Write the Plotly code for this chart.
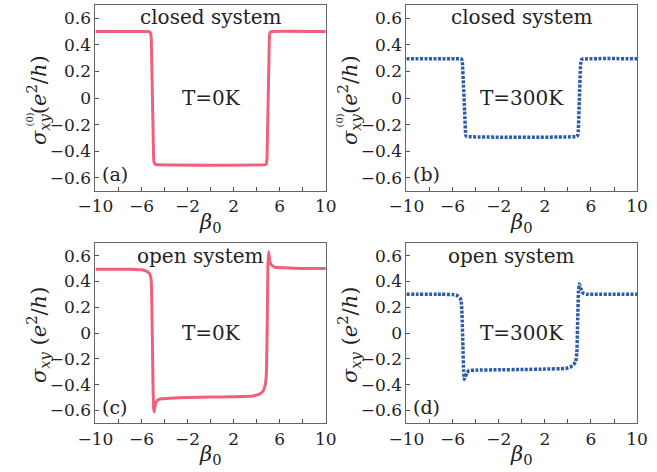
import plotly.graph_objects as go

# ---- data ----
beta_a = [-10, -5.5, -5.3, -5.22, -5.15, -4.95, -4.88, -4.8, 4.8, 4.85, 4.9, 5.1, 5.15, 5.25, 10]
sig_a = [0.5, 0.5, 0.498, 0.49, 0.45, -0.45, -0.49, -0.5, -0.5, -0.49, -0.45, 0.45, 0.49, 0.5, 0.5]

beta_b = [-10, -5.3, -5.2, -5.15, -5.05, -4.95, -4.85, -4.75, 4.75, 4.85, 4.9, 5.0, 5.1, 5.2, 10]
sig_b = [0.295, 0.295, 0.29, 0.27, 0.1, -0.1, -0.28, -0.29, -0.29, -0.28, -0.25, 0.0, 0.25, 0.29, 0.295]

beta_c = [-10, -7, -6, -5.6, -5.4, -5.25, -5.15, -5.1, -5.0, -4.95, -4.9, -4.85, -4.75, -4.6,
          -4.3, -3.5, -2, 0, 2, 3.5, 4.2, 4.55, 4.75, 4.85, 4.92, 4.97, 5.03, 5.08, 5.15, 5.3,
          5.6, 6.5, 8, 10]
sig_c = [0.495, 0.495, 0.49, 0.48, 0.47, 0.45, 0.4, 0.2, -0.4, -0.58, -0.61, -0.58, -0.54, -0.52,
         -0.51, -0.505, -0.5, -0.497, -0.494, -0.49, -0.475, -0.45, -0.4, -0.3, 0.1, 0.5, 0.63,
         0.6, 0.55, 0.525, 0.51, 0.505, 0.5, 0.5]

beta_d = [-10, -7, -6, -5.6, -5.35, -5.25, -5.18, -5.1, -5.03, -4.98, -4.9, -4.75, -4.55, -4,
          -2, 0, 2, 3.8, 4.2, 4.5, 4.68, 4.78, 4.85, 4.92, 5.0, 5.1, 5.3, 5.6, 6.5, 8, 10]
sig_d = [0.3, 0.3, 0.298, 0.29, 0.27, 0.25, 0.15, -0.1, -0.3, -0.36, -0.34, -0.31, -0.29, -0.288,
         -0.285, -0.283, -0.28, -0.275, -0.265, -0.245, -0.22, -0.15, 0.1, 0.33, 0.38, 0.35, 0.31,
         0.3, 0.3, 0.3, 0.3]

x_ticks = [-10, -6, -2, 2, 6, 10]
x_ticktext = ["\u221210", "\u22126", "\u22122", "2", "6", "10"]
y_ticks = [-0.6, -0.4, -0.2, 0, 0.2, 0.4, 0.6]
y_ticktext = ["\u22120.6", "\u22120.4", "\u22120.2", "0", "0.2", "0.4", "0.6"]

panel_labels = ["(a)", "(b)", "(c)", "(d)"]
system_labels = ["closed system", "closed system", "open system", "open system"]
temp_labels = ["T=0K", "T=300K", "T=0K", "T=300K"]

PINK = "#F0607A"
BLUE = "#2B5BAA"
FONT = "DejaVu Serif"
TXT = "#222222"

W, H = 657, 472
# panel pixel boxes (left, right, top, bottom)
boxes = [(81, 322, 5, 191), (406.3, 647.7, 5, 191),
         (81, 322, 242.7, 423.3), (406.3, 647.7, 242.7, 423.3)]

fig = go.Figure()
series = [(beta_a, sig_a, PINK, "solid", 3), (beta_b, sig_b, BLUE, "3px,1.5px", 3.5),
          (beta_c, sig_c, PINK, "solid", 3), (beta_d, sig_d, BLUE, "3px,1.5px", 3.5)]

layout = dict(width=W, height=H, margin=dict(l=0, r=0, t=0, b=0),
              paper_bgcolor="white", plot_bgcolor="white", showlegend=False,
              font=dict(family=FONT, color=TXT))
annotations = []
for i, ((xs, ys, col, dash, lw), (l, r, t, b)) in enumerate(zip(series, boxes)):
    n = "" if i == 0 else str(i + 1)
    fig.add_trace(go.Scatter(x=xs, y=ys, mode="lines", xaxis="x" + n, yaxis="y" + n,
                             line=dict(color=col, width=lw, dash=dash, shape="spline",
                                       smoothing=0.3)))
    axstyle = dict(showline=True, linecolor="#666666", linewidth=1, mirror=True,
                   showgrid=False, zeroline=False, ticks="inside", ticklen=4,
                   tickcolor="#555555", tickfont=dict(family=FONT, size=17, color=TXT))
    layout["xaxis" + n] = dict(domain=[l / W, r / W], range=[-10, 10], anchor="y" + n,
                               tickvals=x_ticks, ticktext=x_ticktext,
                               minor=dict(dtick=2, tick0=0, ticks="inside", ticklen=4,
                                          tickcolor="#555555"),
                               **axstyle)
    layout["yaxis" + n] = dict(domain=[1 - b / H, 1 - t / H], range=[-0.7, 0.7], anchor="x" + n,
                               tickvals=y_ticks, ticktext=y_ticktext, **axstyle)
    xr, yr = "x" + n, "y" + n
    annotations.append(dict(x=0 if i < 2 else -0.9, y=0.61 if i < 2 else 0.6, xref=xr, yref=yr,
                            text=system_labels[i], showarrow=False,
                            font=dict(size=20, family=FONT, color=TXT)))
    annotations.append(dict(x=0.1 if i % 2 == 0 else 0.0, y=0.0, xref=xr, yref=yr,
                            text=temp_labels[i], showarrow=False,
                            font=dict(size=20, family=FONT, color=TXT)))
    annotations.append(dict(x=-9.6, y=-0.57, xref=xr, yref=yr, xanchor="left",
                            text=panel_labels[i], showarrow=False,
                            font=dict(size=19, family=FONT, color=TXT)))
    # x-axis title
    annotations.append(dict(x=(l + r) / 2 / W, y=1 - (b + 32) / H, xref="paper", yref="paper",
                            xanchor="center", yanchor="middle",
                            text="<i>\u03b2</i><sub>0</sub>", showarrow=False,
                            font=dict(size=21, family=FONT, color=TXT)))
    # y-axis title
    yc = (t + b) / 2 + 2
    xc = l - 60
    if i < 2:
        ytxt = "<i>\u03c3</i><sub><i>xy</i></sub>(<i>e</i><sup>2</sup>/<i>h</i>)"
    else:
        ytxt = "<i>\u03c3</i><sub><i>xy</i></sub> (<i>e</i><sup>2</sup>/<i>h</i>)"
    annotations.append(dict(x=xc / W, y=1 - yc / H, xref="paper", yref="paper",
                            xanchor="center", yanchor="middle",
                            text=ytxt, showarrow=False, textangle=-90,
                            font=dict(size=21, family=FONT, color=TXT)))
    if i < 2:
        annotations.append(dict(x=(xc - 10) / W, y=1 - (yc + 20) / H, xref="paper", yref="paper",
                                xanchor="center", yanchor="middle",
                                text="(0)", showarrow=False, textangle=-90,
                                font=dict(size=10, family=FONT, color=TXT)))

layout["annotations"] = annotations
fig.update_layout(**layout)
fig.write_html("out.html")
